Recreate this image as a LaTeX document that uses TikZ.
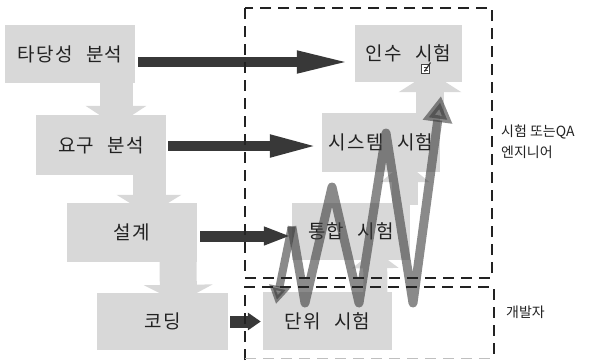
\documentclass[tikz,border=0pt]{standalone}
\usepackage{fontspec}
\setmainfont{Noto Sans CJK KR}
\newfontfamily\boxfont[LetterSpace=6,WordSpace=2.5]{Noto Sans CJK KR}
\usetikzlibrary{arrows.meta}
\definecolor{boxgray}{HTML}{D8D8D8}
\definecolor{darkarr}{HTML}{383838}
\definecolor{ziggray}{HTML}{3C3C3C}
\definecolor{textdark}{HTML}{222222}
\definecolor{dashcol}{HTML}{222222}
\begin{document}
\begin{tikzpicture}[x=1pt,y=-1pt,
  box/.style={fill=boxgray, draw=none, inner sep=0pt, text=textdark,
    font=\boxfont\fontsize{19pt}{22pt}\selectfont},
  larr/.style={draw=boxgray, line width=#1},
  darr/.style={draw=darkarr, line width=10pt},
  zig/.style={draw=ziggray, line width=9pt, line join=round, opacity=0.6},
  region/.style={draw=dashcol, line width=2.6pt, dash pattern=on 11pt off 7pt},
  lab/.style={text=textdark, inner sep=0pt, anchor=west,
    font=\fontsize{14pt}{21pt}\selectfont, align=left}]
\useasboundingbox (0,0) rectangle (592,360);

% boxes
\node[box, minimum width=130pt, minimum height=58pt] (tad) at (70,54) {타당성 분석};
\node[box, minimum width=130pt, minimum height=60pt] (req) at (101,145) {요구 분석};
\node[box, minimum width=130pt, minimum height=59pt] (des) at (132,232.5) {설계};
\node[box, minimum width=131pt, minimum height=57pt] (cod) at (162.5,321.5) {코딩};
\node[box, minimum width=107pt, minimum height=57pt] (acc) at (408.5,53.5) {인수 시험};
\node[box, minimum width=118pt, minimum height=59pt] (sys) at (381,142.5) {시스템 시험};
\node[box, minimum width=118pt, minimum height=57pt] (int) at (351,231.5) {통합 시험};
\node[box, minimum width=129pt, minimum height=58pt] (unit) at (327.5,321) {단위 시험};

% light broad arrows (waterfall down, test levels up)
\draw[larr=33pt, -{Triangle[length=20pt,width=60pt]}]
  ([shift={(46,-2)}]tad.south) -- ([shift={(15,11)}]req.north);
\draw[larr=33pt, -{Triangle[length=20pt,width=64pt]}]
  ([shift={(48,-2)}]req.south) -- ([shift={(17,12)}]des.north);
\draw[larr=37pt, -{Triangle[length=18pt,width=68pt]}]
  ([shift={(46,-2)}]des.south) -- ([shift={(16,10)}]cod.north);
\draw[larr=28pt, -{Triangle[length=20pt,width=62pt]}]
  ([shift={(49,2)}]sys.north) -- ([shift={(21.5,-10)}]acc.south);
\draw[larr=26pt, -{Triangle[length=20pt,width=48pt]}]
  ([shift={(54,2)}]int.north) -- ([shift={(24,-10)}]sys.south);
\draw[larr=24pt, -{Triangle[length=18pt,width=46pt]}]
  ([shift={(48,2)}]unit.north) -- ([shift={(24,-10)}]int.south);

% small icon under 인수 시험
\coordinate (ic) at ([shift={(17,15)}]acc.center);
\draw[fill=white, draw=black!75, line width=0.8pt] ([shift={(-4,-4)}]ic) rectangle ([shift={(4,5)}]ic);
\draw[draw=black!75, line width=0.6pt] ([shift={(-2,-1)}]ic) -- ([shift={(2,-1)}]ic)
  ([shift={(-2,1.5)}]ic) -- ([shift={(2,1.5)}]ic);
\draw[draw=black!80, line width=1.2pt] ([shift={(-1,3)}]ic) -- ([shift={(5,-6)}]ic);

% dark horizontal arrows
\draw[darr, -{Triangle[length=55pt,width=20pt]}]
  ([shift={(3,8)}]tad.east) -- ([shift={(-3,8.5)}]acc.west);
\draw[darr, -{Triangle[length=50pt,width=20pt]}]
  ([shift={(2,1)}]req.east) -- ([shift={(-2,3.5)}]sys.west);
\draw[darr, line width=11pt, -{Triangle[length=27pt,width=17pt]}]
  ([shift={(3,3.5)}]des.east) -- ([shift={(-1,4.5)}]int.west);
\draw[darr, line width=12pt, -{Triangle[length=13pt,width=17pt]}]
  ([shift={(2,0)}]cod.east) -- ([shift={(-2,0.5)}]unit.west);

% zigzag between test levels
\coordinate (zs) at ([yshift=5]int.west);
\coordinate (z1) at (305,303);
\coordinate (z2) at (332,187);
\coordinate (z3) at (359,303);
\coordinate (z4) at (386,133);
\coordinate (z5) at (413,303);
\coordinate (zt) at (441,96);
\coordinate (zd) at (276,304);
\draw[zig, line width=8pt, -{Triangle[length=18pt,width=20pt]}] (zs) -- (zd);
\draw[zig, -{Triangle[length=26pt,width=28pt]}]
  (zs) -- (z1) -- (z2) -- (z3) -- (z4) -- (z5) -- (zt);

% dashed regions
\draw[region] (245,8) rectangle (492,278);
\draw[region] (245,360) -- (245,287) -- (494,287) -- (494,360);
\draw[region, draw=black!25, line width=1.5pt] (245,358.5) -- (494,358.5);

% labels
\node[lab] (qa) at (501,142) {시험 또는QA\\엔지니어};
\node[lab] (dev) at (506,312) {개발자};
\end{tikzpicture}
\end{document}
